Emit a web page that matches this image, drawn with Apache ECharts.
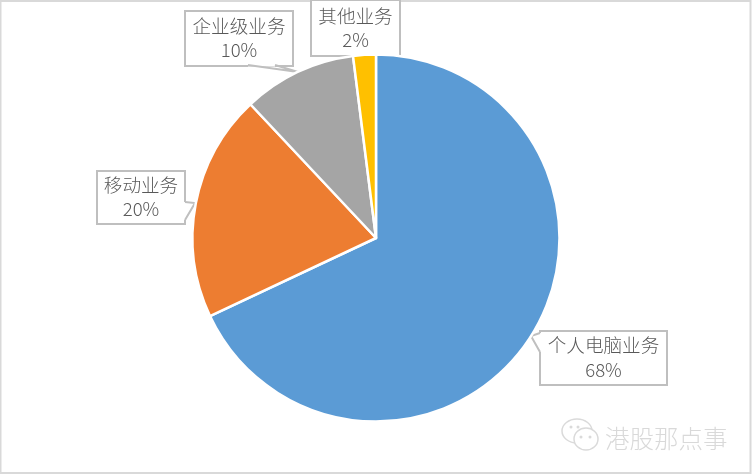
<!DOCTYPE html>
<html><head><meta charset="utf-8">
<style>html,body{margin:0;padding:0;background:#fff}#c{width:752px;height:475px}</style>
<script src="https://cdn.jsdelivr.net/npm/echarts@6/dist/echarts.min.js"></script>
</head><body><div id="c"></div>
<script>
const categories = ['个人电脑业务', '移动业务', '企业级业务', '其他业务'];
const shares = [68, 20, 10, 2];
const colors = ['#5B9BD5', '#ED7D31', '#A5A5A5', '#FFC000'];
const watermark = '港股那点事';

const FONT = '"Noto Sans CJK SC", sans-serif';
const boxes = {
  '个人电脑业务': {x: 603.5, y: 357.5, w: 127, h: 54},
  '移动业务': {x: 141, y: 197, w: 88, h: 53},
  '企业级业务': {x: 239, y: 38, w: 108, h: 55},
  '其他业务': {x: 355.5, y: 28, w: 89, h: 56}
};
const tails = [
  [[540, 333], [531, 336], [540, 352]],
  [[185, 202], [195, 203], [185, 220]],
  [[248, 65], [298, 72], [275, 65]]
];
const chart = echarts.init(document.getElementById('c'), null, {renderer: 'canvas'});
const tailGaps = tails.map(p => ({
  type: 'line', z: 100, silent: true,
  shape: {x1: p[0][0], y1: p[0][1], x2: p[2][0], y2: p[2][1]},
  style: {stroke: '#fff', lineWidth: 3}
}));
const tailGraphics = tails.map(p => ({
  type: 'polyline', z: 101, silent: true,
  shape: {points: p},
  style: {fill: 'none', stroke: '#BFBFBF', lineWidth: 2}
}));
chart.setOption({
  animation: false,
  backgroundColor: '#fff',
  color: colors,
  series: [{
    type: 'pie',
    center: [376, 238],
    radius: [0, 183.5],
    startAngle: 90,
    clockwise: true,
    z: 200,
    silent: true,
    itemStyle: {borderColor: '#fff', borderWidth: 2.5},
    data: categories.map((c, i) => ({name: c, value: shares[i]})),
    labelLine: {show: false},
    label: {
      show: true,
      position: 'outside',
      formatter: p => p.name + '\n' + p.value + '%',
      fontFamily: FONT,
      fontWeight: 300,
      fontSize: 18.6,
      lineHeight: 24.5,
      color: '#595959',
      align: 'center',
      verticalAlign: 'middle'
    },
    labelLayout: p => {
      const b = boxes[p.text.split('\n')[0]];
      return {x: b.x, y: b.y, align: 'center', verticalAlign: 'middle', hideOverlap: false, moveOverlap: false};
    }
  }],
  graphic: [
    {type: 'rect', z: -1, silent: true, shape: {x: 0.5, y: 1, width: 750, height: 472},
      style: {fill: 'none', stroke: '#D9D9D9', lineWidth: 2}},
    ...Object.values(boxes).map(b => ({
      type: 'rect', z: 99, silent: true,
      shape: {x: Math.round(b.x - b.w / 2), y: Math.round(b.y - b.h / 2), width: b.w, height: b.h},
      style: {fill: '#fff', stroke: '#BFBFBF', lineWidth: 2}
    })),
    ...tailGaps,
    ...tailGraphics,
    {type: 'text', z: 101, silent: true, x: 605, y: 426,
      style: {text: watermark, fontFamily: FONT, fontSize: 24.5, fontWeight: 300, fill: '#D9D9D9'}},
    {type: 'ellipse', z: 101, silent: true, shape: {cx: 577, cy: 431, rx: 15, ry: 12},
      style: {fill: '#fff', stroke: '#DADADA', lineWidth: 1.5}},
    {type: 'ellipse', z: 102, silent: true, shape: {cx: 586, cy: 439, rx: 12, ry: 11},
      style: {fill: '#fff', stroke: '#DADADA', lineWidth: 1.5}},
    {type: 'circle', z: 103, silent: true, shape: {cx: 581, cy: 437, r: 1.5}, style: {fill: '#DADADA'}},
    {type: 'circle', z: 103, silent: true, shape: {cx: 590, cy: 437, r: 1.5}, style: {fill: '#DADADA'}},
    {type: 'circle', z: 103, silent: true, shape: {cx: 571, cy: 427, r: 1.5}, style: {fill: '#DADADA'}},
    {type: 'circle', z: 103, silent: true, shape: {cx: 578, cy: 427, r: 1.5}, style: {fill: '#DADADA'}}
  ]
});
</script></body></html>
